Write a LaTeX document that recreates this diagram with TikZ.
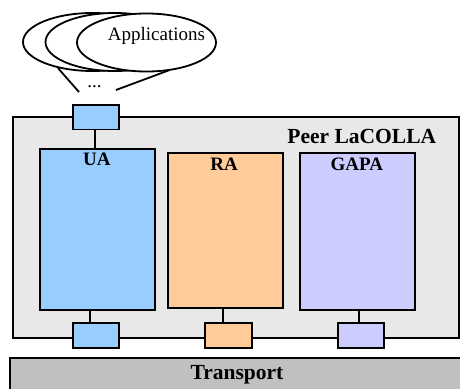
\documentclass[tikz,border=0pt]{standalone}
\usepackage{fontspec}
\setmainfont{Liberation Serif}
\usetikzlibrary{shapes.geometric}

\definecolor{uablue}{HTML}{99CCFF}
\definecolor{raorange}{HTML}{FFCC99}
\definecolor{gapaviolet}{HTML}{CCCCFF}
\definecolor{peergray}{HTML}{E8E8E8}
\definecolor{transgray}{HTML}{C0C0C0}

\begin{document}
\begin{tikzpicture}[x=1pt,y=-1pt,line width=1.8pt,
  box/.style={draw,rectangle,inner sep=0pt,anchor=north west},
  app/.style={draw,fill=white,ellipse,inner sep=0pt,minimum width=139pt,minimum height=58pt},
  port/.style={box,minimum width=46pt,minimum height=24.5pt},
  lbl/.style={font=\bfseries\fontsize{19}{19}\selectfont,anchor=base,inner sep=0pt},
  biglbl/.style={font=\bfseries\fontsize{21.5}{21.5}\selectfont,anchor=base,inner sep=0pt},
  txt/.style={font=\fontsize{19}{19}\selectfont,anchor=base,inner sep=0pt}]
\useasboundingbox (0,0) rectangle (460,388);
\clip (0,0) rectangle (460,388);

% stacked application bubbles
\node[app] (appl) at (92.5,42) {};
\node[app] (appm) at (115,42) {};
\node[app] (appr) at (146.5,42.5) {};
\node[txt] (apptxt) at (156.5,40) {Applications};
\node[txt] (dots) at (94.5,87.5) {...};
\coordinate (dl) at (79,92);
\coordinate (dr) at (116,90);
\draw (appl.217) -- (dl);
\draw[shorten <=-3pt] (appr.305) -- (dr);

% peer container
\node[box,fill=peergray,minimum width=446.6pt,minimum height=221pt] (peer) at (11.7,115.7) {};
\node[biglbl,anchor=base east] (peerlbl) at (437,143.3) {Peer LaCOLLA};

% agents
\node[box,fill=uablue,minimum width=115pt,minimum height=161.3pt] (ua) at (39.3,147.7) {};
\node[box,fill=raorange,minimum width=115pt,minimum height=155pt] (ra) at (166.7,151.7) {};
\node[box,fill=gapaviolet,minimum width=115pt,minimum height=157.3pt] (gapa) at (299.3,151.7) {};
\node[lbl] (ualbl) at (96.8,165.7) {UA};
\node[lbl] (ralbl) at (224.2,170) {RA};
\node[lbl] (gapalbl) at (356.8,170) {GAPA};

% ports
\node[port,fill=uablue] (topport) at (72,104) {};
\node[port,fill=uablue] (uaport) at (71.7,322.3) {};
\node[port,fill=raorange,minimum width=46.4pt] (raport) at (204.3,322.3) {};
\node[port,fill=gapaviolet] (gapaport) at (337.3,322.3) {};

\draw ([xshift=-0.7pt]topport.south) -- ([xshift=-0.7pt]topport.south |- ua.north);
\draw ([xshift=-6pt]uaport.north) -- ([xshift=-6pt]uaport.north |- ua.south);
\draw ([xshift=-5.8pt]raport.north) -- ([xshift=-5.8pt]raport.north |- ra.south);
\draw ([xshift=-2.6pt]gapaport.north) -- ([xshift=-2.6pt]gapaport.north |- gapa.south);

% transport layer
\node[box,fill=transgray,minimum width=470pt,minimum height=50pt] (transport) at (9,357.3) {};
\node[biglbl] (translbl) at (237,379.3) {Transport};
\end{tikzpicture}
\end{document}
